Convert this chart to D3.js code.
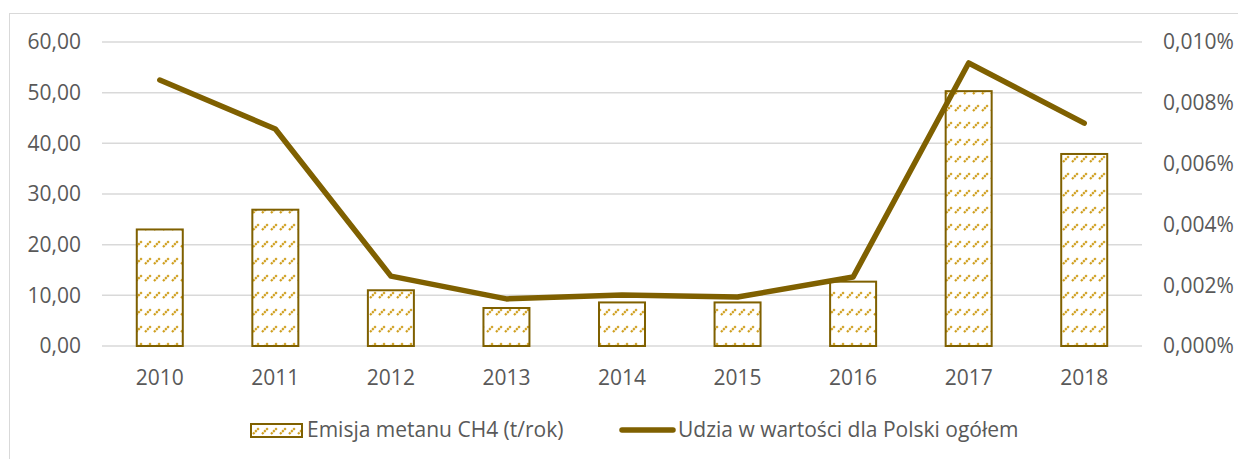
<!DOCTYPE html>
<html>
<head>
<meta charset="utf-8">
<script src="https://cdn.jsdelivr.net/npm/d3@7"></script>
<style>
  body { margin: 0; background: #fff; }
  text { font-family: "Open Sans", sans-serif; fill: #595959; }
</style>
</head>
<body>
<script>
// chart data
var years = ["2010", "2011", "2012", "2013", "2014", "2015", "2016", "2017", "2018"];
var emisja = [23.0, 26.9, 11.0, 7.5, 8.6, 8.6, 12.7, 50.3, 37.9];       // t/rok
var udzial = [0.00875, 0.00714, 0.00230, 0.00155, 0.00168, 0.00161, 0.00227, 0.00931, 0.00733]; // %
var leftTicks = [0, 10, 20, 30, 40, 50, 60];
var rightTicks = [0, 0.002, 0.004, 0.006, 0.008, 0.010];
var legendNames = ["Emisja metanu CH4 (t/rok)", "Udzia w wartości dla Polski ogółem"];

var W = 1238, H = 459;
var gold = "#7f6000";
var fs = "21px";

var svg = d3.select("body").append("svg")
  .attr("width", W).attr("height", H);

// hatch pattern for bars
var defs = svg.append("defs");
var pat = defs.append("pattern")
  .attr("id", "hatch")
  .attr("patternUnits", "userSpaceOnUse")
  .attr("width", 9).attr("height", 17);
pat.append("rect").attr("width", 9).attr("height", 17).attr("fill", "#fff");
pat.append("line")
  .attr("x1", 1).attr("y1", 9).attr("x2", 7).attr("y2", 3)
  .attr("stroke", "#cf9e1c").attr("stroke-width", 2.2)
  .attr("stroke-dasharray", "2.2,0.8");

// outer chart frame
svg.append("rect")
  .attr("x", 9.5).attr("y", 13.5).attr("width", W).attr("height", H)
  .attr("fill", "none").attr("stroke", "#d9d9d9").attr("stroke-width", 1);

var x = d3.scaleBand().domain(years).range([102, 1142]);
var yL = d3.scaleLinear().domain([0, 60]).range([346, 42]);
var yR = d3.scaleLinear().domain([0, 0.010]).range([346, 42]);

// gridlines
svg.append("g").selectAll("line").data(leftTicks).join("line")
  .attr("x1", 102).attr("x2", 1142)
  .attr("y1", d => yL(d)).attr("y2", d => yL(d))
  .attr("stroke", "#d9d9d9").attr("stroke-width", 1.5);

// left axis labels
var fmtL = d => d.toFixed(2).replace(".", ",");
svg.append("g").selectAll("text").data(leftTicks).join("text")
  .attr("x", 81).attr("y", d => yL(d)).attr("dy", "0.35em")
  .attr("text-anchor", "end").style("font-size", fs)
  .text(fmtL);

// right axis labels
var fmtR = d => (d).toFixed(3).replace(".", ",") + "%";
svg.append("g").selectAll("text").data(rightTicks).join("text")
  .attr("x", 1163).attr("y", d => yR(d)).attr("dy", "0.35em")
  .attr("text-anchor", "start").style("font-size", fs)
  .text(fmtR);

// x labels
svg.append("g").selectAll("text").data(years).join("text")
  .attr("x", d => x(d) + x.bandwidth() / 2).attr("y", 378).attr("dy", "0.35em")
  .attr("text-anchor", "middle").style("font-size", fs)
  .text(d => d);

// bars
var bw = 46;
svg.append("g").selectAll("rect").data(emisja).join("rect")
  .attr("x", (d, i) => x(years[i]) + x.bandwidth() / 2 - bw / 2)
  .attr("y", d => yL(d))
  .attr("width", bw)
  .attr("height", d => yL(0) - yL(d))
  .attr("fill", "url(#hatch)")
  .attr("stroke", gold).attr("stroke-width", 2);

// line
var line = d3.line()
  .x((d, i) => x(years[i]) + x.bandwidth() / 2)
  .y(d => yR(d));
svg.append("path").datum(udzial)
  .attr("d", line)
  .attr("fill", "none").attr("stroke", gold)
  .attr("stroke-width", 5.5).attr("stroke-linejoin", "round").attr("stroke-linecap", "round");

// legend
var lg = svg.append("g");
lg.append("rect").attr("x", 251).attr("y", 424).attr("width", 51).attr("height", 13)
  .attr("fill", "url(#hatch)").attr("stroke", gold).attr("stroke-width", 2);
lg.append("text").attr("x", 307).attr("y", 430).attr("dy", "0.35em")
  .style("font-size", fs).text(legendNames[0]);
lg.append("line").attr("x1", 622).attr("x2", 673).attr("y1", 430).attr("y2", 430)
  .attr("stroke", gold).attr("stroke-width", 5.5).attr("stroke-linecap", "round");
lg.append("text").attr("x", 678).attr("y", 430).attr("dy", "0.35em")
  .style("font-size", fs).text(legendNames[1]);
</script>
</body>
</html>
